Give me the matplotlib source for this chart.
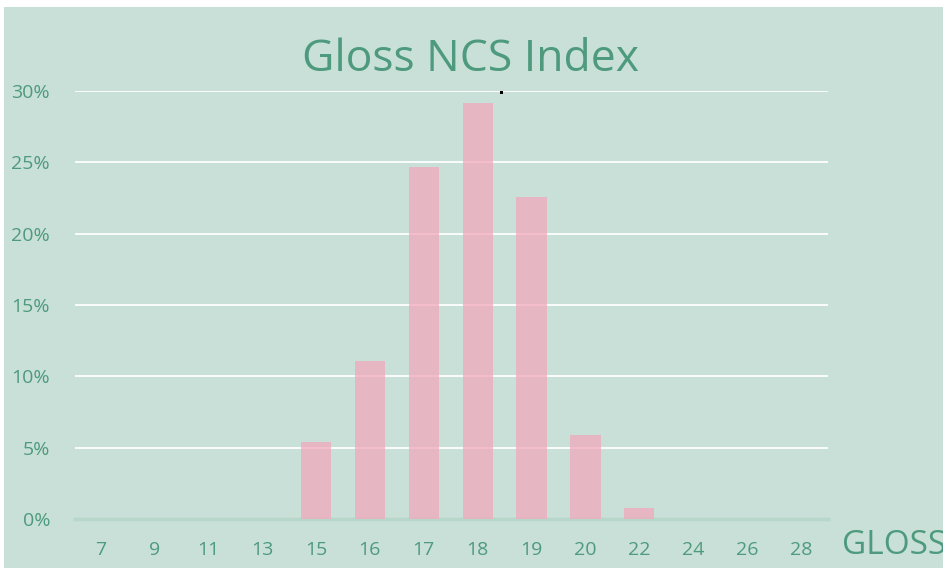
import matplotlib.pyplot as plt
import matplotlib.patches as patches
from matplotlib.ticker import PercentFormatter

# gloss categories and share of samples
gloss = ['7', '9', '11', '13', '15', '16', '17', '18', '19', '20', '22', '24', '26', '28']
share = [0, 0, 0, 0, 0.054, 0.111, 0.247, 0.2915, 0.226, 0.059, 0.008, 0, 0, 0]

bg = '#c8e0d8'
green = '#4e9a7e'

fig = plt.figure(figsize=(9.43, 5.68), dpi=100)
fig.patch.set_facecolor('white')
# coloured panel with thin white margin top/left
fig.patches.append(patches.Rectangle((4/943, 0), 1, 1 - 7/568, transform=fig.transFigure,
                                     facecolor=bg, edgecolor='none', zorder=-5))

ax = fig.add_axes([75/943, 49/568, (828-75)/943, (519-91)/568])
ax.set_facecolor('none')
ax.set_zorder(2)

x = range(len(gloss))
ax.bar(x, share, width=0.56, color='#f2a8bc', alpha=0.75, zorder=3)

ax.set_ylim(0, 0.30)
ax.set_xlim(-0.47, 13.5)
ax.set_yticks([0, 0.05, 0.10, 0.15, 0.20, 0.25, 0.30])
ax.yaxis.set_major_formatter(PercentFormatter(1.0, decimals=0))
ax.set_xticks(list(x))
ax.set_xticklabels(gloss)

ax.grid(axis='y', color='white', linewidth=1.3, zorder=1)
ax.set_axisbelow(True)
for s in ['top', 'right', 'left']:
    ax.spines[s].set_visible(False)
ax.spines['bottom'].set_color('#b6d7ca')
ax.spines['bottom'].set_linewidth(2.5)
ax.spines['bottom'].set_zorder(2)

ax.tick_params(axis='both', length=0, colors=green, labelsize=14)
ax.tick_params(axis='x', pad=16)
ax.tick_params(axis='y', pad=18)
for lab in ax.get_xticklabels() + ax.get_yticklabels():
    lab.set_fontfamily('Open Sans')

fig.text(470/943, 1 - 60/568, 'Gloss NCS Index', ha='center', va='center',
         fontsize=32, color=green, family='Open Sans')
fig.text(842/943, 1 - 545/568, 'GLOSS', ha='left', va='center',
         fontsize=24, color=green, family='Open Sans')

# small dark mark on the top gridline, as in the original
fig.patches.append(patches.Rectangle((500/943, 1 - 94/568), 3/943, 3/568,
                                     transform=fig.transFigure, facecolor='black',
                                     edgecolor='none', zorder=5))

fig.savefig('out.png', dpi=100, facecolor=fig.get_facecolor())
